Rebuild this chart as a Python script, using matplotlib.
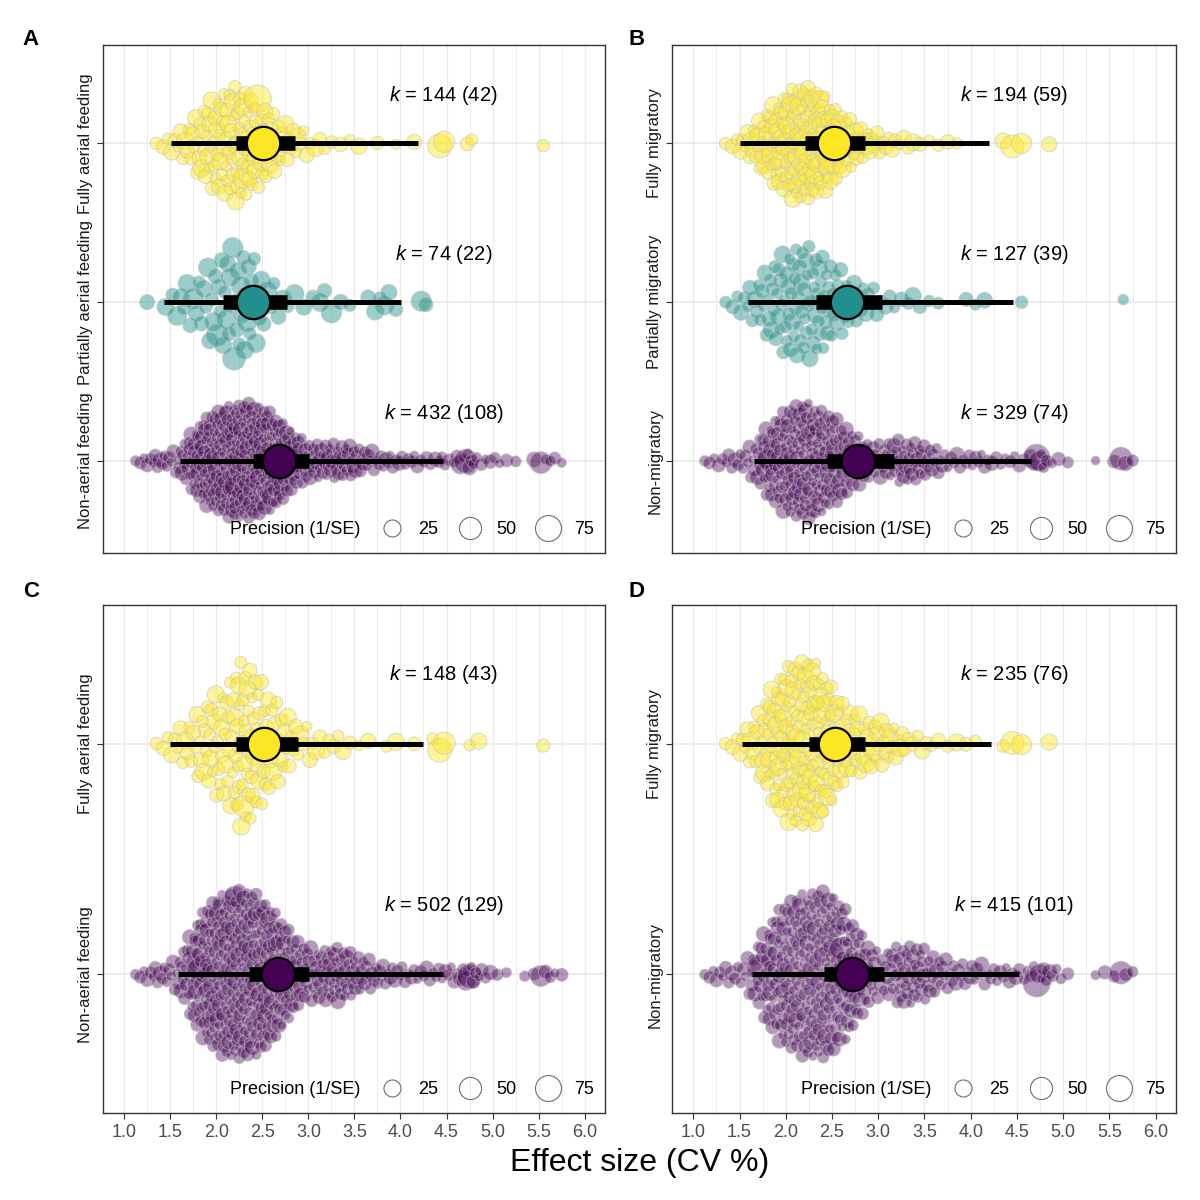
import numpy as np
import matplotlib
matplotlib.use("Agg")
import matplotlib.pyplot as plt
from matplotlib.lines import Line2D
from matplotlib.ticker import MultipleLocator
from matplotlib.colors import to_rgba

plt.rcParams['font.family'] = ['Liberation Sans', 'DejaVu Sans']
plt.rcParams['mathtext.fontset'] = 'custom'
plt.rcParams['mathtext.it'] = 'Liberation Sans:italic'
plt.rcParams['mathtext.rm'] = 'Liberation Sans'

# ---------------- data ----------------
# effect sizes binned in 0.1-wide bins: 1.0-1.1, 1.1-1.2, ..., 5.7-5.8
BIN_START = 1.0
BIN_WIDTH = 0.1

A_NON = [0, 2, 3, 4, 4, 4, 9, 16, 22, 25,
         27, 29, 30, 30, 29, 26, 23, 19, 14, 10,
         9, 9, 9, 9, 9, 7, 5, 4, 4, 3,
         3, 3, 3, 2, 3, 2, 3, 5, 2, 2,
         2, 1, 1, 0, 1, 2, 2, 1]
A_PARTIAL = [0, 0, 1, 0, 1, 2, 3, 3, 4, 5,
             6, 7, 7, 7, 5, 3, 2, 2, 1, 1,
             1, 2, 1, 1, 1, 0, 1, 2, 2, 1,
             0, 0, 2, 0, 0, 0, 0, 0, 0, 0,
             0, 0, 0, 0, 0, 0, 0, 0]
A_FULLY = [0, 0, 0, 1, 2, 3, 4, 6, 9, 11,
           12, 14, 14, 13, 11, 9, 7, 5, 4, 3,
           2, 2, 1, 1, 1, 1, 0, 1, 0, 1,
           0, 1, 0, 0, 2, 0, 0, 2, 0, 0,
           0, 0, 0, 0, 0, 1, 0, 0]

B_NON = [0, 2, 2, 3, 3, 4, 6, 12, 17, 20,
         23, 24, 24, 22, 20, 17, 14, 11, 8, 6,
         7, 8, 9, 9, 8, 6, 5, 3, 3, 3,
         3, 3, 2, 2, 2, 2, 3, 4, 2, 1,
         1, 0, 0, 1, 0, 1, 2, 1]
B_PARTIAL = [0, 0, 0, 1, 2, 3, 4, 6, 8, 10,
             11, 12, 11, 11, 9, 7, 6, 4, 4, 3,
             2, 2, 1, 2, 1, 1, 1, 0, 0, 1,
             1, 1, 0, 0, 0, 1, 0, 0, 0, 0,
             0, 0, 0, 0, 0, 0, 1, 0]
B_FULLY = [0, 0, 0, 1, 2, 4, 6, 9, 13, 15,
           18, 19, 19, 17, 15, 12, 9, 7, 5, 4,
           3, 3, 2, 2, 1, 1, 1, 1, 1, 0,
           0, 0, 0, 1, 1, 1, 0, 0, 1, 0,
           0, 0, 0, 0, 0, 0, 0, 0]

C_NON = [0, 2, 3, 4, 4, 5, 10, 20, 27, 31,
         33, 35, 35, 35, 33, 30, 26, 21, 15, 11,
         10, 11, 12, 12, 10, 8, 6, 5, 4, 4,
         3, 3, 3, 3, 3, 3, 3, 5, 3, 2,
         1, 1, 0, 1, 1, 2, 2, 1]
C_FULLY = [0, 0, 0, 1, 2, 3, 4, 5, 7, 9,
           10, 11, 16, 16, 12, 10, 8, 6, 4, 3,
           3, 2, 2, 2, 1, 1, 1, 0, 1, 1,
           0, 1, 0, 1, 2, 0, 0, 1, 1, 0,
           0, 0, 0, 0, 0, 1, 0, 0]

D_NON = [0, 2, 3, 3, 3, 4, 7, 14, 20, 24,
         26, 27, 28, 29, 29, 26, 22, 17, 12, 8,
         6, 9, 11, 11, 10, 8, 6, 5, 4, 4,
         4, 3, 3, 3, 3, 2, 3, 4, 3, 2,
         1, 0, 0, 1, 1, 1, 2, 1]
D_FULLY = [0, 0, 0, 1, 2, 4, 6, 10, 15, 19,
           21, 22, 22, 21, 17, 13, 10, 8, 7, 7,
           6, 5, 4, 2, 2, 2, 1, 1, 1, 1,
           1, 0, 0, 1, 1, 1, 0, 0, 1, 0,
           0, 0, 0, 0, 0, 0, 0, 0]

# typical precision (1/SE) values, cycled through the points of a group
PREC_NON = [6, 10, 4, 14, 8, 3, 12, 7, 18, 9, 5]
PREC_FULLY = [10, 16, 7, 22, 12, 5, 18, 9, 26, 14, 8]
PREC_PARTIAL_A = [18, 26, 12, 34, 22, 14, 30, 16, 42, 20, 10]
PREC_PARTIAL_B = [9, 15, 7, 21, 11, 6, 17, 10, 25, 13, 8]

# notably large points: (effect size, precision)
A_BIG = {"non": [(4.72, 60), (5.55, 50), (2.2, 45), (2.6, 40), (4.65, 35)],
         "partial": [(2.2, 55), (2.0, 50), (4.25, 40)],
         "fully": [(2.45, 85), (4.45, 60), (4.48, 45), (2.3, 40)]}
B_BIG = {"non": [(4.72, 80), (5.6, 55), (1.8, 45), (4.75, 40)],
         "partial": [],
         "fully": [(2.5, 75), (4.42, 55), (4.5, 40)]}
C_BIG = {"non": [(4.75, 65), (5.52, 45), (1.8, 50), (2.2, 45), (4.7, 35)],
         "fully": [(4.42, 60), (4.48, 50), (2.3, 45)]}
D_BIG = {"non": [(4.72, 85), (5.6, 55), (1.72, 70), (2.6, 55), (4.75, 35)],
         "fully": [(4.42, 55), (4.5, 40)]}

# meta-analytic summaries (bottom-to-top category order)
A_CATS = ["Non-aerial feeding", "Partially aerial feeding", "Fully aerial feeding"]
A_EST = [2.68, 2.40, 2.51]
A_CI = [(2.40, 3.01), (2.07, 2.77), (2.21, 2.85)]
A_PI = [(1.61, 4.46), (1.43, 4.01), (1.51, 4.19)]
A_K = [432, 74, 144]
A_STUDIES = [108, 22, 42]

B_CATS = ["Non-migratory", "Partially migratory", "Fully migratory"]
B_EST = [2.78, 2.66, 2.52]
B_CI = [(2.45, 3.17), (2.33, 3.04), (2.21, 2.86)]
B_PI = [(1.66, 4.65), (1.59, 4.46), (1.51, 4.20)]
B_K = [329, 127, 194]
B_STUDIES = [74, 39, 59]

C_CATS = ["Non-aerial feeding", "Fully aerial feeding"]
C_EST = [2.67, 2.52]
C_CI = [(2.36, 3.01), (2.21, 2.89)]
C_PI = [(1.59, 4.46), (1.50, 4.25)]
C_K = [502, 148]
C_STUDIES = [129, 43]

D_CATS = ["Non-migratory", "Fully migratory"]
D_EST = [2.72, 2.53]
D_CI = [(2.41, 3.06), (2.25, 2.86)]
D_PI = [(1.64, 4.52), (1.53, 4.22)]
D_K = [415, 235]
D_STUDIES = [101, 76]

LEGEND_PREC = [25, 50, 75]
X_TICKS = [1.0, 1.5, 2.0, 2.5, 3.0, 3.5, 4.0, 4.5, 5.0, 5.5, 6.0]

COL = {"non": "#440154", "partial": "#21908C", "fully": "#FDE725"}
ALPHA = {"non": 0.40, "partial": 0.45, "fully": 0.45}


# ---------------- helpers ----------------
def size_pt(p):
    """precision -> marker diameter in points (ggplot-like area scale)"""
    return (4.75 + 2.45 * np.sqrt(p)) * 0.72


def expand(counts):
    vals = []
    for i, c in enumerate(counts):
        for j in range(c):
            vals.append(BIN_START + BIN_WIDTH * (i + (j + 0.5) / c))
    return np.array(vals)


def vdc(n, base=2):
    out = np.zeros(n)
    for k in range(1, n + 1):
        q, denom, v = k, 1.0, 0.0
        while q > 0:
            denom *= base
            q, r = divmod(q, base)
            v += r / denom
        out[k - 1] = v
    return out


def quasirandom(values, width):
    n = len(values)
    order = np.argsort(values, kind="stable")
    ranks = np.empty(n, dtype=int)
    ranks[order] = np.arange(n)
    sd = np.std(values, ddof=1)
    iqr = np.subtract(*np.percentile(values, [75, 25]))
    bw = 0.9 * min(sd, iqr / 1.34) * n ** (-0.2) * 0.5
    grid = np.linspace(values.min() - 3 * bw, values.max() + 3 * bw, 512)
    dg = np.exp(-0.5 * ((grid[:, None] - values[None, :]) / bw) ** 2).sum(1)
    dp = np.exp(-0.5 * ((values[:, None] - values[None, :]) / bw) ** 2).sum(1)
    dens = dp / dg.max()
    return (2 * vdc(n)[ranks] - 1) * dens * width


def draw_panel(ax, cats, groups, counts, cycles, bigs, est, ci, pi, k, studies, ylim, show_x):
    ax.set_xlim(0.77, 6.22)
    ax.set_ylim(*ylim)
    ax.xaxis.set_major_locator(MultipleLocator(0.5))
    ax.xaxis.set_minor_locator(MultipleLocator(0.25))
    ax.grid(True, which="major", axis="x", color="#EBEBEB", lw=1.0, zorder=0)
    ax.grid(True, which="minor", axis="x", color="#EBEBEB", lw=0.7, zorder=0)
    ax.set_axisbelow(True)
    for ypos in range(1, len(cats) + 1):
        ax.axhline(ypos, color="#EBEBEB", lw=1.3, zorder=0)

    for i, g in enumerate(groups):
        ypos = i + 1
        vals = expand(counts[i])
        cyc = cycles[i]
        prec = np.array([cyc[j % len(cyc)] for j in range(len(vals))], dtype=float)
        used = set()
        for bv, bp in bigs.get(g, []):
            d = np.abs(vals - bv)
            for u in used:
                d[u] = np.inf
            idx = int(np.argmin(d))
            used.add(idx)
            prec[idx] = bp
        offs = quasirandom(vals, 0.37)
        sizes = size_pt(prec) ** 2
        face = to_rgba(COL[g], ALPHA[g])
        edge = (0.75, 0.75, 0.75, 0.55)
        ax.scatter(vals, ypos + offs, s=sizes, facecolors=[face], edgecolors=[edge],
                   linewidths=0.7, zorder=2)
        ax.plot(pi[i], [ypos, ypos], color="black", lw=3.6, solid_capstyle="butt", zorder=3)
        ax.plot(ci[i], [ypos, ypos], color="black", lw=10.5, solid_capstyle="butt", zorder=4)
        ax.scatter([est[i]], [ypos], s=24.0 ** 2, c=COL[g], edgecolors="black",
                   linewidths=1.6, zorder=5)
        ax.text(4.47, ypos + 0.30, rf"$k$ = {k[i]} ({studies[i]})", ha="center",
                va="center", fontsize=14.5, color="black", zorder=6)

    ax.set_yticks(range(1, len(cats) + 1))
    ax.set_yticklabels(cats, rotation=90, va="center", fontsize=12, color="#1A1A1A")
    ax.set_xticks(X_TICKS)
    if show_x:
        ax.set_xticklabels([f"{t:.1f}" for t in X_TICKS], fontsize=13, color="#4D4D4D")
        ax.tick_params(axis="x", which="major", length=4, width=0.8, color="#333333", pad=4)
    else:
        ax.tick_params(axis="x", which="both", length=0, labelbottom=False)
    ax.tick_params(axis="x", which="minor", length=0)
    ax.tick_params(axis="y", length=4, width=0.8, color="#333333", pad=3)
    for sp in ax.spines.values():
        sp.set_color("#333333")
        sp.set_linewidth(1.0)

    handles = [Line2D([], [], ls="", marker="")]
    for p in LEGEND_PREC:
        handles.append(Line2D([], [], ls="", marker="o", markersize=size_pt(p),
                              markerfacecolor="none", markeredgecolor="#6E6E6E",
                              markeredgewidth=0.8))
    labels = ["Precision (1/SE)"] + [str(p) for p in LEGEND_PREC]
    leg = ax.legend(handles, labels, ncol=4, loc="lower right", bbox_to_anchor=(1.0, 0.008),
                    frameon=False, fontsize=13, handlelength=1.0, handletextpad=0.95,
                    columnspacing=1.25, borderaxespad=0.2)
    leg.set_zorder(7)


fig = plt.figure(figsize=(12, 12), dpi=100)
W, H = 0.4183, 0.4233
axA = fig.add_axes([0.0858, 0.5392, W, H])
axB = fig.add_axes([0.5600, 0.5392, 0.4200, H])
axC = fig.add_axes([0.0858, 0.0725, W, H])
axD = fig.add_axes([0.5600, 0.0725, 0.4200, H])

draw_panel(axA, A_CATS, ["non", "partial", "fully"], [A_NON, A_PARTIAL, A_FULLY],
           [PREC_NON, PREC_PARTIAL_A, PREC_FULLY], A_BIG,
           A_EST, A_CI, A_PI, A_K, A_STUDIES, (0.42, 3.62), False)
draw_panel(axB, B_CATS, ["non", "partial", "fully"], [B_NON, B_PARTIAL, B_FULLY],
           [PREC_NON, PREC_PARTIAL_B, PREC_FULLY], B_BIG,
           B_EST, B_CI, B_PI, B_K, B_STUDIES, (0.42, 3.62), False)
draw_panel(axC, C_CATS, ["non", "fully"], [C_NON, C_FULLY],
           [PREC_NON, PREC_FULLY], C_BIG,
           C_EST, C_CI, C_PI, C_K, C_STUDIES, (0.40, 2.60), True)
draw_panel(axD, D_CATS, ["non", "fully"], [D_NON, D_FULLY],
           [PREC_NON, PREC_FULLY], D_BIG,
           D_EST, D_CI, D_PI, D_K, D_STUDIES, (0.40, 2.60), True)

for letter, (lx, ly) in zip("ABCD", [(0.019, 0.9667), (0.5235, 0.9667),
                                      (0.019, 0.5067), (0.5235, 0.5067)]):
    fig.text(lx, ly, letter, fontsize=16, fontweight="bold", ha="left", va="center")

fig.text(0.533, 0.031, "Effect size (CV %)", ha="center", va="center", fontsize=23)

fig.savefig("out.png", dpi=100, facecolor="white")
